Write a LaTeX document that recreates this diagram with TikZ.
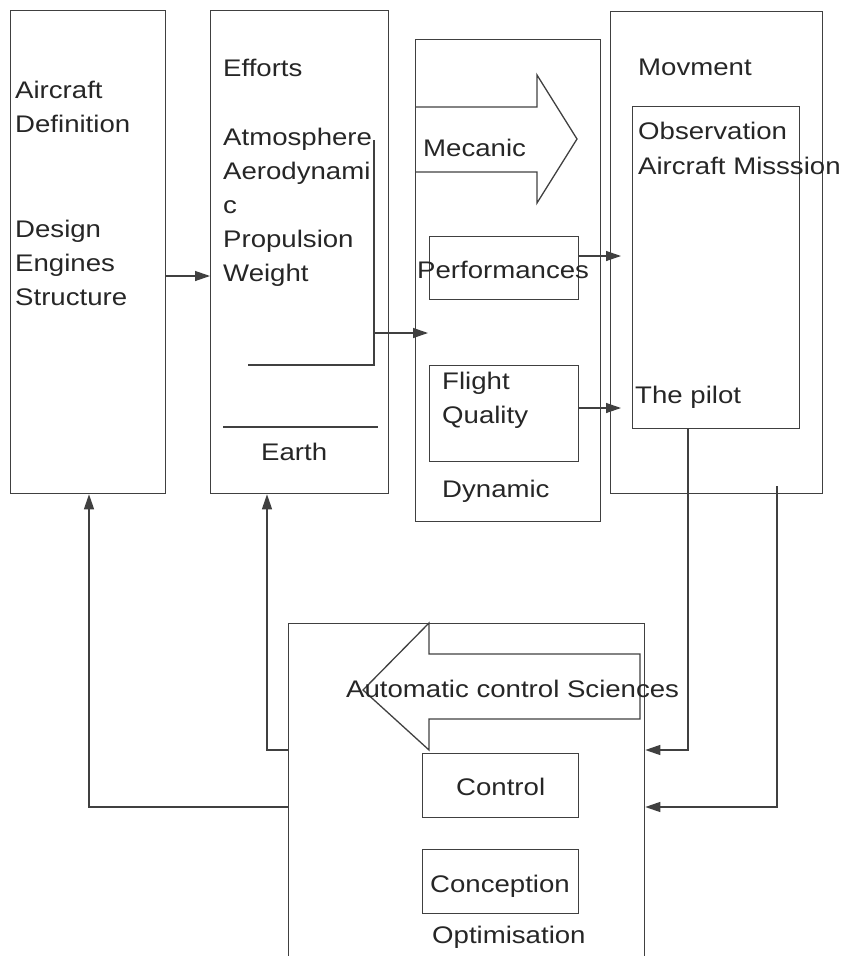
\documentclass[tikz,border=0pt]{standalone}
\usepackage{fontspec}
\setmainfont{Liberation Sans}[FakeStretch=1.15]
\usetikzlibrary{arrows.meta}

\begin{document}
\begin{tikzpicture}[x=1pt,y=-1pt,
  box/.style={draw=black!75,line width=1.3pt,inner sep=0pt,anchor=north west},
  lbl/.style={anchor=base west,inner sep=0pt,font=\fontsize{24}{34}\selectfont,text=black!85},
  wire/.style={draw=black!75,line width=1.3pt},
  arr/.style={wire,-{Triangle[length=15pt,width=10pt]}}]
\useasboundingbox (0,0) rectangle (846,956);
\clip (0,0) rectangle (846,956);

% Boxes
\node[box,minimum width=155pt,minimum height=483pt] (def) at (10,10) {};
\node[box,minimum width=178pt,minimum height=483pt] (eff) at (210,10) {};
\node[box,minimum width=185pt,minimum height=482pt] (dyn) at (415,39) {};
\node[box,minimum width=212pt,minimum height=482pt] (mov) at (610,11) {};
\node[box,minimum width=167pt,minimum height=322pt] (obs) at (632,106) {};
\node[box,minimum width=149pt,minimum height=63pt] (perf) at (429,236) {};
\node[box,minimum width=149pt,minimum height=96pt] (fq) at (429,365) {};
\node[box,minimum width=356pt,minimum height=345pt] (opt) at (288,623) {};
\node[box,minimum width=156pt,minimum height=64pt] (ctl) at (422,753) {};
\node[box,minimum width=156pt,minimum height=64pt] (con) at (422,849) {};

% Mecanic arrow
\draw[wire] (415,107) -- (537,107) -- (537,75) -- (577,139) -- (537,203) -- (537,172) -- (415,172);
% Automatic control arrow
\draw[wire] (640,654) -- (429,654) -- (429,623) -- (363,690) -- (429,750) -- (429,719) -- (640,719) -- cycle;

% Lines inside Efforts
\coordinate (brk) at (374,365);
\draw[wire] (248,365) -- (brk) -- (374,140);
\draw[wire] (223,427) -- (378,427);

% Texts
\node[lbl] (t-air) at (15,98) {Aircraft};
\node[lbl] (t-defn) at (15,132) {Definition};
\foreach \t [count=\i from 0] in {Design,Engines,Structure}
  \node[lbl] (t-des-\i) at (15,237+34*\i) {\t};
\node[lbl] (t-eff) at (223,76) {Efforts};
\foreach \t [count=\i from 0] in {Atmosphere,Aerodynami,c,Propulsion,Weight}
  \node[lbl] (t-atm-\i) at (223,145+34*\i) {\t};
\node[lbl] (t-earth) at (261,460) {Earth};
\node[lbl] (t-mec) at (423,156) {Mecanic};
\node[lbl] (t-perf) at (417,278) {Performances};
\node[lbl] (t-fl) at (442,389) {Flight};
\node[lbl] (t-qual) at (442,423) {Quality};
\node[lbl] (t-dyn) at (442,497) {Dynamic};
\node[lbl] (t-mov) at (638,75) {Movment};
\node[lbl] (t-obs) at (638,139) {Observation};
\node[lbl] (t-mis) at (638,174) {Aircraft Misssion};
\node[lbl] (t-pil) at (635,403) {The pilot};
\node[lbl] (t-auto) at (346,697) {Automatic control Sciences};
\node[lbl] (t-ctl) at (456,795) {Control};
\node[lbl] (t-con) at (430,892) {Conception};
\node[lbl] (t-opt) at (432,943) {Optimisation};

% Connectors
\coordinate (dynin) at (428,333);
\coordinate (perfout) at (621,256);
\coordinate (fqout) at (621,408);
\coordinate (movdn) at (777,486);
\draw[arr] (def.east |- 0,276) -- (eff.west |- 0,276);
\draw[arr] (brk |- dynin) -- (dynin);
\draw[arr] (perf.east |- perfout) -- (perfout);
\draw[arr] (fq.east |- fqout) -- (fqout);
\draw[arr] (obs.south -| 688,0) |- (opt.east |- 0,750);
\draw[arr] (movdn) |- (opt.east |- 0,807);
\draw[arr] (opt.west |- 0,750) -| (eff.south -| 267,0);
\draw[arr] (opt.west |- 0,807) -| (def.south -| 89,0);

\end{tikzpicture}
\end{document}
